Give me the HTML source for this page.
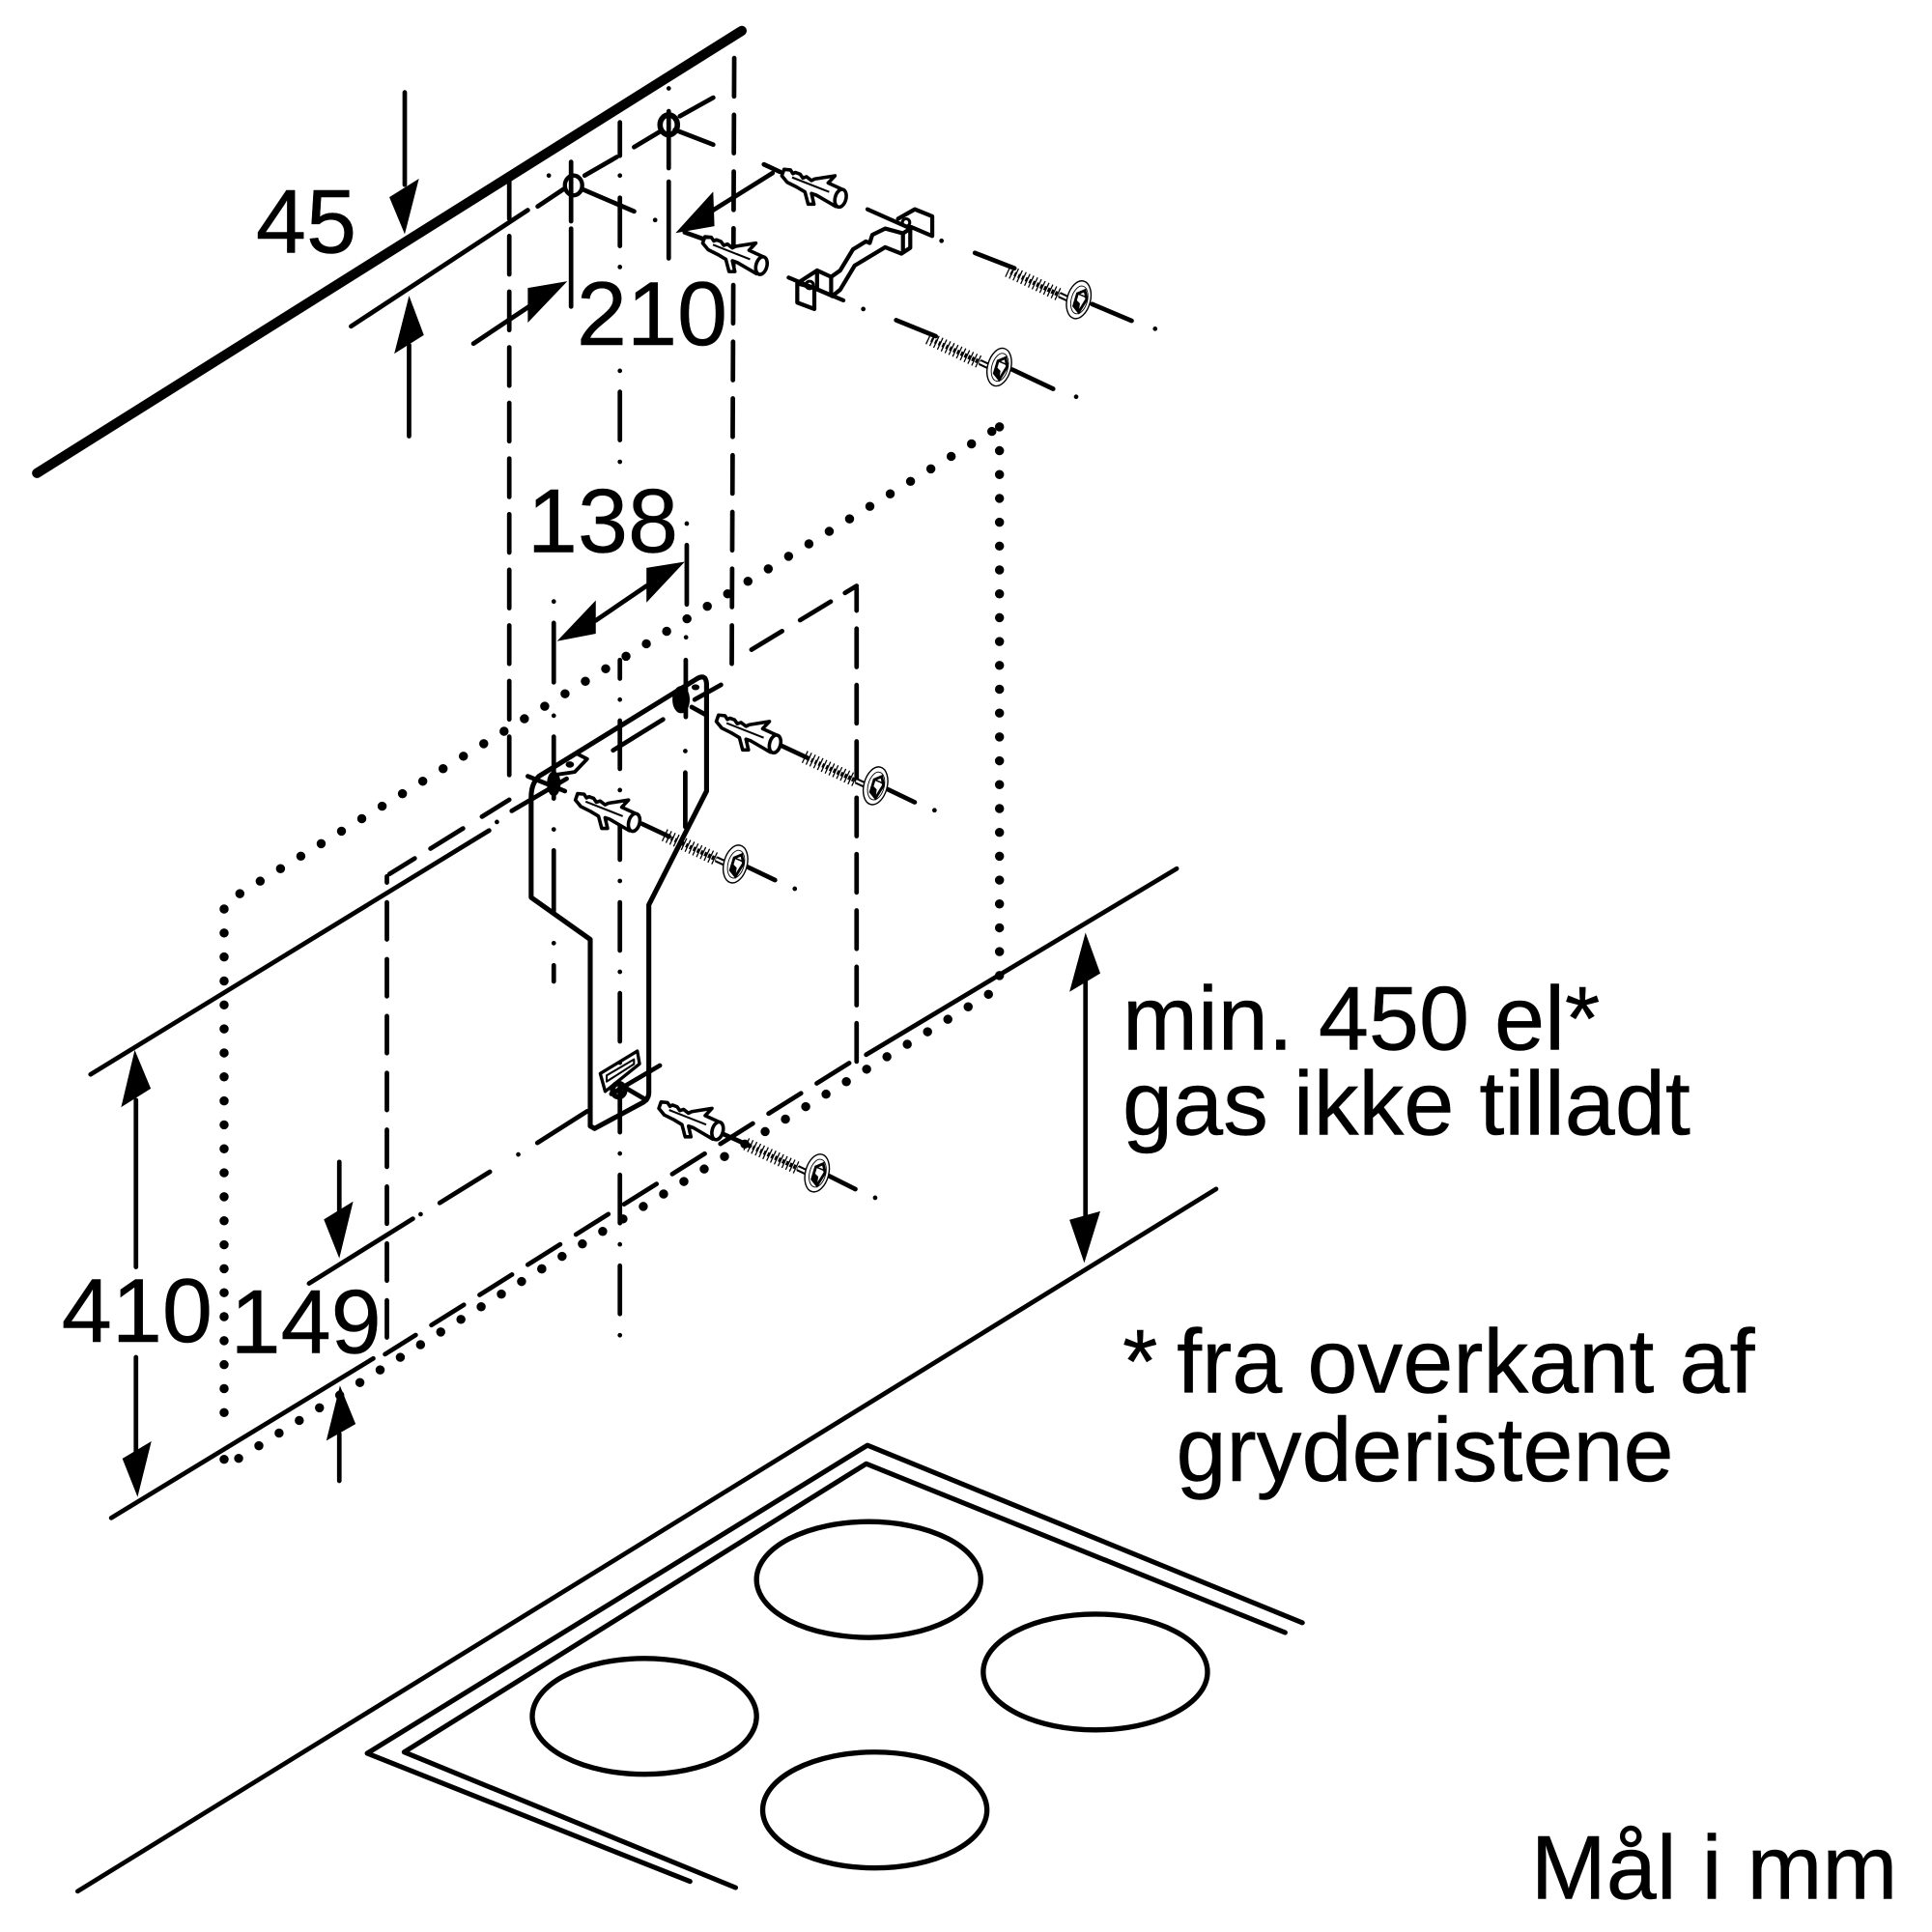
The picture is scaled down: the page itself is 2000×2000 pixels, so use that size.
<!DOCTYPE html>
<html><head><meta charset="utf-8"><style>
html,body{margin:0;padding:0;background:#fff}
svg{display:block}
text{font-family:"Liberation Sans",sans-serif;font-size:73.4px;fill:#000;stroke:#000;stroke-width:.35}
</style></head><body>
<svg xmlns="http://www.w3.org/2000/svg" width="2000" height="2000" viewBox="0 0 1563 1563">
<defs>
<g id="dowel">
<path d="M-48 -18.3 L-46.2 -23.5 L-41 -23 L-39 -20 L-37 -21 L-33.2 -19.6 L-31 -16.5 L-28 -17.5 L-24 -14.4 L-21.4 -15.7 L-5 -18.3 L-10.5 -12.5 L.8 -7.3 L-4.4 6.5 L-20 -2.6 L-24 -4 L-22 4.7 L-26.7 4.7 L-29.3 -5.2 L-35.8 -9.1 L-43.6 -13 Z" fill="#fff" stroke="#000" stroke-width="2.8" stroke-linejoin="round"/>
<path d="M-39.7 -17 L-9.7 -5.2" stroke="#000" stroke-width="1.6" fill="none"/>
<ellipse cx="-.5" cy="0" rx="4.4" ry="7.3" transform="rotate(15)" fill="#fff" stroke="#000" stroke-width="2.8"/>
</g>
<g id="screw" fill="none" stroke="#000">
<path d="M-57.5 -23.5 L-15.7 -4" stroke-width="10.5" stroke-dasharray="1 2.4"/>
<path d="M-55 -22.3 L-15.7 -4" stroke-width="3.6" stroke-dasharray="1.8 1.5"/>
<path d="M-15.7 -4 L-6 .5" stroke-width="5"/>
<path d="M-15.7 -4 L-6 .5" stroke="#fff" stroke-width="1.8"/>
<ellipse cx="0" cy="0" rx="9.4" ry="15.6" transform="rotate(15)" fill="#fff" stroke-width="1.1"/>
<ellipse cx=".5" cy="0" rx="6.5" ry="11.5" transform="rotate(15)" stroke-width=".7"/>
<path d="M-1 -5 L5 -7.5 L6.5 -.5 L0 10 L-4 5 Z" fill="#fff" stroke-width="2.2"/>
<path d="M-4 5 L-3 -1 L1 3 L0 10 Z" fill="#000" stroke="none"/>
<path d="M-1 -5 L5 -2.5 L6.5 -.5" stroke-width="1.2"/>
</g>
</defs>

<g fill="none" stroke="#000" stroke-width="3.7" stroke-linecap="round" stroke-linejoin="round">
<!-- items measured on full view -->
<g transform="scale(.9968)">
<path d="M30 384 L602 25" stroke-width="8"/>
<path d="M73.5 872 L397 674"/>
<path d="M703 856 L955 705"/>
<path d="M63 1535 L987 965"/>
<path d="M328.5 75 V150M332 354 V280"/>
<path d="M881 790 V990"/>
<g stroke-width="4">
<path d="M560 1527 L298 1423 L704 1173 L1057 1317"/>
<path d="M597 1532 L328 1422 L703 1188 L1043 1325"/>
<ellipse cx="705" cy="1282" rx="91" ry="47" stroke-width="4.2"/>
<ellipse cx="889" cy="1357" rx="91" ry="47" stroke-width="4.2"/>
<ellipse cx="523" cy="1393" rx="91" ry="47" stroke-width="4.2"/>
<ellipse cx="710" cy="1469" rx="91" ry="47" stroke-width="4.2"/>
</g>
</g>

<!-- vertical dashed lines -->
<path d="M412 146 L412 632" stroke-dasharray="31 14"/>
<path d="M594 47 L592 537" stroke-dasharray="31 14.9"/>
<path d="M693 476 L693 861" stroke-dasharray="31 14.6" stroke-dashoffset="13"/>
<path d="M313 730 L313 1084" stroke-dasharray="30 16"/>
<path d="M313 709 L313 714"/>

<!-- center line -->
<path d="M501.5 99V126M501.5 142h0M501.5 160V199M501.5 216h0M501.5 300h0M501.5 317V356M501.5 373.6h0M501.5 534V549M501.5 566h0"/>
<path d="M501.5 583 L501.5 1082" stroke-dasharray="39 17.2 0 17.3"/>

<!-- vertical aux lines -->
<path d="M541 71.5h0M541 90V136M541 147V209"/>
<path d="M462 131V179M462 185V248"/>
<path d="M448 486.6h0M448 504V552M448 579h0M448 596V646M448 671h0M448 688V737M448 763h0M448 781V794"/>
<path d="M555.6 423.6h0M555.6 441V489M555 515.6h0M554.8 534V580M554.4 607.6h0M554.4 625V669"/>

<!-- upper axis -->
<path d="M284 264 L427 170M435 167 L456 153M473 142 L499 127M513 119 L533 107M550 94 L577 79"/>
<path d="M471 153 L513 171M546 105 L577 117M444 142h0M530 178h0"/>
<ellipse cx="464" cy="150" rx="7" ry="8" stroke-width="3.4"/>
<ellipse cx="541" cy="101" rx="7" ry="8" stroke-width="4.4"/>

<!-- axis lines upper right -->
<path d="M618 133 L631 139M625 140 L577 170M554 188 L571 194"/>
<path d="M761.7 194.8h0M698.4 250h0"/>
<path d="M788.7 204.6 L820.7 217M883.5 246 L915.5 259.5M934.5 266h0"/>
<path d="M725 259 L757 272M819 299 L852 314.6M870.6 321h0"/>

<!-- 210 dim line -->
<path d="M383 278 L440 240"/>

<!-- rect dashed -->
<path d="M693 474 L604 528" stroke-dasharray="11 13.5 29 17 29 17 31 100"/>
<path d="M412 647 L312 709" stroke-dasharray="26 18 31 15 24 100"/>

<!-- bottom-rect dashed -->
<path d="M687 860 L311.5 1095.6" stroke-dasharray="31 15"/>

<!-- dotted rect -->
<g stroke-width="7.4">
<path d="M808.6 345.3 L808.6 797" stroke-dasharray="0 19.3"/>
<path d="M802.4 349 L194 723" stroke-dasharray="0 19.3"/>
<path d="M181.3 735.4 L181.3 1162" stroke-dasharray="0 19.4"/>
<path d="M181.3 1180.6 h0"/>
<path d="M438.3 1026.5 L802 803" stroke-dasharray="0 19.28"/>
<path d="M438.3 1026.5 L192 1180.5" stroke-dasharray="0 19.28"/>
</g>

<!-- bottom solid -->
<path d="M90 1228 L302 1099"/>

<!-- 149 axis -->
<path d="M250 1038.3 L334 986M340.3 982.3h0M355.7 973.2 L396.3 948M419.3 934h0M434.7 924.6 L475 899"/>
<path d="M402 665h0M494.6 885 L533.8 862M506 880 L523 890"/>

<!-- lower axes -->
<path d="M631 602.7 L653 613M717 638 L740 649M756 655.5h0"/>
<path d="M519.3 666.4 L541.4 676.8M604 701 L627 712M643 719h0"/>
<path d="M583 916.5 L606.5 927M670 951 L692 962M708 969h0"/>

<!-- bracket -->
<path d="M429.7 645 Q429.7 634 436 628 L564 549 Q571 545 571.6 553 L571.6 640 L524.9 732 L524.9 884 Q524.9 889 520 892 L481 913 L477.5 911 L477.5 760 L429.7 726 Z" stroke-width="4"/>
<path d="M496 607 L536.4 582"/>
<path d="M427 628 L457 640M414 656 L458.4 630"/>
<path d="M448 621 L466 609.4 L475 614 L465 624.5 L448 627" stroke-width="3"/>
<ellipse cx="461" cy="618.5" rx="3.4" ry="2.6" fill="#000" stroke="none"/>
<path d="M583.3 554 L562 566M559.6 572 L571.6 578.6"/>
<ellipse cx="562.7" cy="556" rx="3.2" ry="2.4" fill="#000" stroke="none"/>
<ellipse cx="448" cy="634" rx="4.5" ry="9" fill="#000" stroke-width="2"/>
<ellipse cx="551" cy="566" rx="6" ry="10" fill="#000" stroke-width="2"/>
<path d="M485.6 868.5 L515.6 850.3 L517.4 860.7 L489.6 883 Z" stroke-width="2.6"/>
<path d="M490.8 870 L512.9 857 L512.9 860.8 L490.8 875 Z" stroke-width="1.6"/>
<ellipse cx="500.5" cy="882" rx="5" ry="5.5" stroke-width="4.2"/>

<!-- upper hook bracket -->
<g stroke-width="3.3">
<path d="M661 218.8 L672.4 224 L672.4 239 L658.8 233 M661 218.8 V234"/>
<path d="M645 229.2 L645 244.8 L658.8 250 L658.8 233 Z M645 229.2 L661 218.8"/>
<path d="M672.4 224 L679.7 218.8 L690 201.8 L700.5 195.3 L703.6 196.6 L705.7 190 L716.1 184.9 L730.5 188.8"/>
<path d="M673.2 239.6 L679.7 234.4 L691.4 214.9 L716.1 200 L729.2 205.2 L736.4 200.5 L736.4 185 L730.5 188.8 L730.5 203"/>
<path d="M726.5 177 L740.1 169.3 L754.2 175 L754.2 190.9 L737 183.6"/>
<path d="M701.8 169.3 L737 185M638 224.5 L682.3 243"/>
<circle cx="733" cy="180" r="3" stroke-width="2.4"/>
<circle cx="655" cy="230.5" r="3" stroke-width="2.4"/>
</g>

<!-- arrow shafts -->
<path d="M440 240 L430 247M577 170 L565 178"/>
<path d="M110 1025 V890M110 1098 V1175"/>
<path d="M274.5 940 V980M274.5 1198 V1160"/>
<path d="M482 502 L523 474"/>
</g>

<!-- arrow heads -->
<g fill="#000">
<g transform="scale(.9968)">
<path d="M328.5 190 L316 160 L340 145 Z"/>
<path d="M332 240 L320 287 L344 272 Z"/>
<path d="M881 757 L868 805 L893 790 Z"/>
<path d="M880 1025 L868 990 L893 983 Z"/>
</g>
<path d="M459 227.5 L427 233 L427 261 Z"/>
<path d="M546.5 188.5 L577 155 L578 183 Z"/>
<path d="M554 454.4 L523 459.4 L523 487.5 Z"/>
<path d="M450.6 518.7 L482 485.7 L482 512.7 Z"/>
<path d="M109 849.5 L98 895.7 L122 880.7 Z"/>
<path d="M111.3 1211 L99 1180 L122.5 1166 Z"/>
<path d="M274.5 1018 L262 986.5 L285.7 972 Z"/>
<path d="M275 1121 L264 1165.5 L287.7 1152 Z"/>
</g>

<!-- fasteners -->
<use href="#dowel" x="680.5" y="160.5"/>
<use href="#dowel" x="616.5" y="215"/>
<use href="#dowel" x="627.5" y="602"/>
<use href="#dowel" x="513.5" y="665.5"/>
<use href="#dowel" x="581" y="915"/>
<use href="#screw" x="872.7" y="242.5"/>
<use href="#screw" x="808.4" y="297"/>
<use href="#screw" x="708.3" y="635.7"/>
<use href="#screw" x="595" y="699"/>
<use href="#screw" x="661" y="949"/>

<!-- text -->
<g transform="scale(.9968)">
<text x="207.7" y="205">45</text>
<text x="468" y="280">210</text>
<text x="428" y="448">138</text>
<text x="50" y="1089">410</text>
<text x="187" y="1098">149</text>
<text x="911" y="852">min. 450 el*</text>
<text x="911" y="921">gas ikke tilladt</text>
<text x="911" y="1130">*</text>
<text x="955" y="1130">fra overkant af</text>
<text x="954.5" y="1202">gryderistene</text>
<text x="1242.5" y="1541">Mål i mm</text>
</g>
</g>
</svg>
</body></html>
